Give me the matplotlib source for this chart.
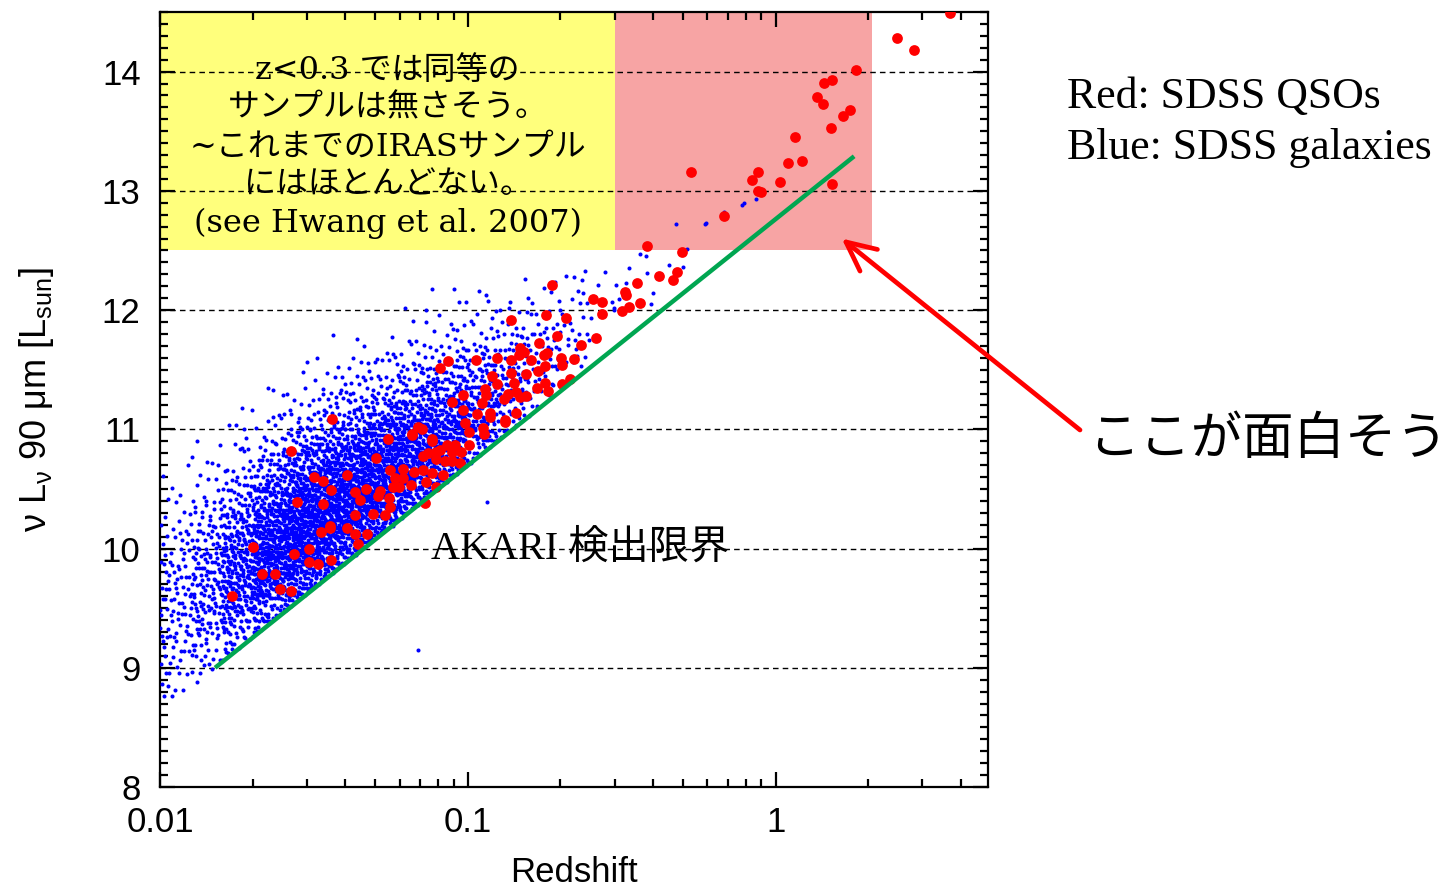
import numpy as np
import matplotlib
matplotlib.use("Agg")
import matplotlib.pyplot as plt
from matplotlib.patches import Rectangle
from matplotlib.ticker import FixedLocator, MultipleLocator, NullFormatter, FuncFormatter

# ---------------------------------------------------------------- data
# SDSS QSOs: redshift and log nu L_nu(90um) [L_sun]
qso_z = [3.70, 2.48, 2.81, 1.83, 1.44, 1.53, 1.36, 1.43, 1.65, 1.74, 1.51, 1.16,
         1.10, 1.22, 1.53, 0.88, 0.84, 1.03, 0.874, 0.896, 0.531, 0.678, 0.381,
         0.497, 0.48, 0.464, 0.418, 0.354, 0.324, 0.327, 0.255, 0.272, 0.333,
         0.363, 0.316, 0.273, 0.1876,
         0.138, 0.179, 0.208, 0.261, 0.195, 0.233, 0.1706, 0.148, 0.152, 0.1466,
         0.1245, 0.1603, 0.1767, 0.1813, 0.2004, 0.221, 0.202, 0.178, 0.138,
         0.106, 0.086, 0.0815, 0.138, 0.154, 0.169, 0.120, 0.202, 0.215, 0.178,
         0.141, 0.124, 0.168, 0.182, 0.1346, 0.143, 0.114, 0.115, 0.148, 0.154,
         0.0968, 0.131, 0.0887, 0.111, 0.0964, 0.1435, 0.107, 0.118, 0.118,
         0.132, 0.132, 0.098, 0.112, 0.1007, 0.1125, 0.069, 0.071, 0.0657,
         0.0766, 0.0551,
         0.0363, 0.0266, 0.0502, 0.0406, 0.0317, 0.0338, 0.0359, 0.0279, 0.0339,
         0.0430, 0.0446, 0.0467, 0.0431, 0.0491, 0.0356, 0.0356, 0.0333, 0.0406,
         0.0431, 0.047, 0.0440, 0.0306, 0.0273, 0.0306, 0.0327, 0.0359, 0.0201,
         0.0215, 0.0236, 0.0245, 0.0267, 0.0172, 0.0724,
         0.0518, 0.0512, 0.0555, 0.0558, 0.0539, 0.0572, 0.0598, 0.058, 0.0614,
         0.0558, 0.0617, 0.0668, 0.0652, 0.0713, 0.0734, 0.0767, 0.0767, 0.0716,
         0.0745, 0.079, 0.0787, 0.0842, 0.0832, 0.0891, 0.0942, 0.0853, 0.0908,
         0.081, 0.0891, 0.0948, 0.079, 0.0658, 0.101]
qso_L = [14.49, 14.28, 14.18, 14.01, 13.905, 13.93, 13.79, 13.73, 13.63, 13.675,
         13.53, 13.45, 13.23, 13.25, 13.06, 13.16, 13.09, 13.07, 13.00, 12.99,
         13.16, 12.79, 12.54, 12.49, 12.32, 12.25, 12.29, 12.23, 12.15, 12.13,
         12.09, 12.065, 12.03, 12.06, 11.99, 11.97, 12.21,
         11.92, 11.96, 11.93, 11.77, 11.78, 11.71, 11.72, 11.68, 11.645, 11.62,
         11.60, 11.58, 11.62, 11.64, 11.60, 11.59, 11.54, 11.53, 11.58, 11.58,
         11.57, 11.51, 11.47, 11.46, 11.49, 11.45, 11.38, 11.42, 11.39, 11.39,
         11.38, 11.35, 11.32, 11.30, 11.31, 11.34, 11.29, 11.27, 11.28, 11.29,
         11.25, 11.23, 11.22, 11.16, 11.14, 11.125, 11.14, 11.10, 11.08, 11.06,
         11.05, 11.01, 10.98, 10.96, 11.02, 11.00, 10.96, 10.92, 10.92,
         11.09, 10.82, 10.76, 10.62, 10.60, 10.57, 10.49, 10.39, 10.37, 10.47,
         10.41, 10.50, 10.28, 10.29, 10.19, 10.17, 10.14, 10.17, 10.12, 10.12,
         10.04, 10.00, 9.955, 9.89, 9.87, 9.90, 10.01, 9.79, 9.79, 9.66, 9.64,
         9.60, 10.38,
         10.48, 10.44, 10.42, 10.35, 10.28, 10.52, 10.52, 10.59, 10.59, 10.66,
         10.67, 10.64, 10.53, 10.66, 10.56, 10.63, 10.90, 10.78, 10.80, 10.81,
         10.75, 10.73, 10.62, 10.73, 10.72, 10.87, 10.87, 10.83, 10.81, 10.81,
         10.52, 10.95, 10.87]

# AKARI 90um detection limit (end points of the line)
limit_z = [0.0151, 1.80]
limit_L = [9.0, 13.29]

# SDSS galaxies, counted in cells: rows = log10(z) bins of 0.1 dex starting at
# gal_logz_lo, columns = height above the detection limit in 0.25 dex steps
gal_logz_lo = [-2.0, -1.9, -1.8, -1.7, -1.6, -1.5, -1.4, -1.3, -1.2, -1.1,
               -1.0, -0.9, -0.8, -0.7]
gal_dL_edges = [0.0, 0.25, 0.5, 0.75, 1.0, 1.25, 1.5, 1.75, 2.0]
gal_counts = [
    [8, 15, 20, 22, 18, 12, 6, 3],
    [14, 28, 36, 36, 28, 16, 8, 3],
    [28, 60, 72, 65, 42, 22, 9, 3],
    [50, 95, 110, 95, 60, 28, 10, 3],
    [70, 125, 135, 110, 65, 30, 10, 3],
    [75, 135, 135, 100, 55, 22, 8, 2],
    [80, 135, 125, 88, 42, 16, 6, 1],
    [80, 125, 110, 68, 30, 11, 3, 0],
    [70, 110, 88, 50, 20, 7, 2, 0],
    [58, 88, 64, 34, 12, 4, 1, 0],
    [42, 58, 40, 20, 7, 2, 0, 0],
    [26, 34, 24, 11, 2, 0, 0, 0],
    [15, 19, 13, 6, 0, 0, 0, 0],
    [8, 10, 8, 4, 0, 0, 0, 0],
]
# individual galaxies outside the counted cells
gal_extra_z = [0.0689, 0.1153, 0.476, 0.589, 0.596, 0.787, 0.78, 0.863, 0.681,
               0.515, 0.363, 0.38, 0.451, 0.501, 0.334, 0.280, 0.265, 0.303,
               0.40, 0.394, 0.295, 0.381, 0.327, 0.31, 0.298, 0.298, 0.073,
               0.092, 0.127, 0.136, 0.162, 0.0233, 0.0132, 0.0188, 0.0184,
               0.0339, 0.0414]
gal_extra_L = [9.15, 10.39, 12.72, 12.72, 12.73, 12.90, 12.88, 12.93, 12.82,
               12.51, 12.47, 12.45, 12.38, 12.36, 12.35, 12.32, 12.21, 12.21,
               12.14, 12.05, 12.07, 12.31, 12.23, 12.09, 12.02, 12.00, 12.00,
               11.83, 12.00, 12.02, 12.06, 11.33, 10.90, 10.82, 11.18, 11.30,
               11.30]

# shaded regions: (z_min, z_max, L_min, L_max)
iras_region = (0.01, 0.3, 12.5, 14.5)
qso_region = (0.3, 2.05, 12.5, 14.5)

# axis ticks
x_ticks = [0.01, 0.1, 1]
x_ticklabels = ["0.01", "0.1", "1"]
y_ticks = [8, 9, 10, 11, 12, 13, 14]

# ---------------------------------------------------------------- figure
SERIF_JP = ["Liberation Serif", "Noto Sans CJK JP"]
SERIF_BOX = ["DejaVu Serif", "Noto Sans CJK JP"]
plt.rcParams["font.family"] = ["Liberation Sans", "DejaVu Sans"]

fig = plt.figure(figsize=(14.48, 8.93), dpi=100)
ax = fig.add_axes([160 / 1448, 1 - 787 / 893, 828 / 1448, 775 / 893])
ax.set_xscale("log")
ax.set_xlim(0.01, 4.9)
ax.set_ylim(8, 14.5)


def halton(i, base):
    f, r = 1.0, 0.0
    while i > 0:
        f /= base
        r += f * (i % base)
        i //= base
    return r


lz_lim0 = np.log10(limit_z[0])
lim_slope = (limit_L[1] - limit_L[0]) / (np.log10(limit_z[1]) - lz_lim0)


def limit_at(lz):
    return limit_L[0] + lim_slope * (lz - lz_lim0)


# spread the counted galaxies over their cells
gal_lz, gal_L = [], []
k = 1
for i, lz0 in enumerate(gal_logz_lo):
    for j in range(len(gal_dL_edges) - 1):
        lo, hi = gal_dL_edges[j], gal_dL_edges[j + 1]
        for _ in range(gal_counts[i][j]):
            u, v = halton(k, 2), halton(k, 3)
            k += 1
            lz = lz0 + 0.1 * u
            gal_lz.append(lz)
            gal_L.append(limit_at(lz) + lo + (hi - lo) * v)
gal_z = np.concatenate([10 ** np.array(gal_lz), gal_extra_z])
gal_Lall = np.concatenate([gal_L, gal_extra_L])

# shaded regions
for (x0, x1, y0, y1), col in [(iras_region, "#FFFF7C"), (qso_region, "#F7A4A4")]:
    ax.add_patch(Rectangle((x0, y0), x1 - x0, y1 - y0, facecolor=col,
                           edgecolor="none", zorder=1))

ax.set_axisbelow("line")
ax.yaxis.grid(True, linestyle=(0, (4, 3)), color="black", linewidth=1.0)
ax.xaxis.grid(False)

ax.scatter(gal_z, gal_Lall, s=8.5, color="#0000FF", linewidths=0, zorder=3)
ax.scatter(qso_z, qso_L, s=60, color="#FF0000", linewidths=0, zorder=4)
ax.plot(limit_z, limit_L, color="#00A651", linewidth=3.2, zorder=5,
        solid_capstyle="butt")

# ticks and spines
ax.xaxis.set_major_locator(FixedLocator(x_ticks))
ax.xaxis.set_major_formatter(FuncFormatter(
    lambda v, p: x_ticklabels[x_ticks.index(v)] if v in x_ticks else ""))
ax.xaxis.set_minor_locator(FixedLocator(
    [m * d for d in (0.01, 0.1, 1) for m in range(2, 10)]))
ax.xaxis.set_minor_formatter(NullFormatter())
ax.yaxis.set_major_locator(FixedLocator(y_ticks))
ax.yaxis.set_minor_locator(MultipleLocator(0.1))
ax.tick_params(which="both", direction="in", top=True, right=True,
               width=1.6, colors="black")
ax.tick_params(which="major", length=11, labelsize=25, pad=14)
ax.tick_params(which="minor", length=6)
for sp in ax.spines.values():
    sp.set_linewidth(1.6)

ax.set_xlabel("Redshift", fontsize=25, labelpad=12)
ax.set_ylabel(r"ν L$_{\mathregular{ν}}$ 90 μm [L$_{\mathregular{sun}}$]",
              fontsize=26, labelpad=33)

# annotations
ax.text(0.0549, 13.37,
        "z<0.3 では同等の\nサンプルは無さそう。\n~これまでのIRASサンプル\nにはほとんどない。\n(see Hwang et al. 2007)",
        ha="center", va="center", multialignment="center", fontsize=23,
        family=SERIF_BOX, linespacing=1.3, zorder=6)
ax.text(0.231, 10.0, "AKARI 検出限界", ha="center", va="center",
        fontsize=29, family=SERIF_JP, zorder=6)

fig.text(1067 / 1448, 1 - 97 / 893, "Red: SDSS QSOs", ha="left", va="center",
         fontsize=31.5, family=SERIF_JP)
fig.text(1067 / 1448, 1 - 148 / 893, "Blue: SDSS galaxies", ha="left",
         va="center", fontsize=31.5, family=SERIF_JP)
fig.text(1088 / 1448, 1 - 441 / 893, "ここが面白そう", ha="left", va="center",
         fontsize=37, family=SERIF_JP)

ax.annotate("", xy=(1.64, 12.6), xycoords="data",
            xytext=(1080 / 1448, 1 - 430 / 893), textcoords="figure fraction",
            arrowprops=dict(arrowstyle="->,head_length=1.05,head_width=0.5",
                            color="#FF0000", lw=3.4, mutation_scale=20,
                            shrinkA=0, shrinkB=0),
            annotation_clip=False, zorder=7)

fig.savefig("out.png", dpi=100, facecolor="white")
